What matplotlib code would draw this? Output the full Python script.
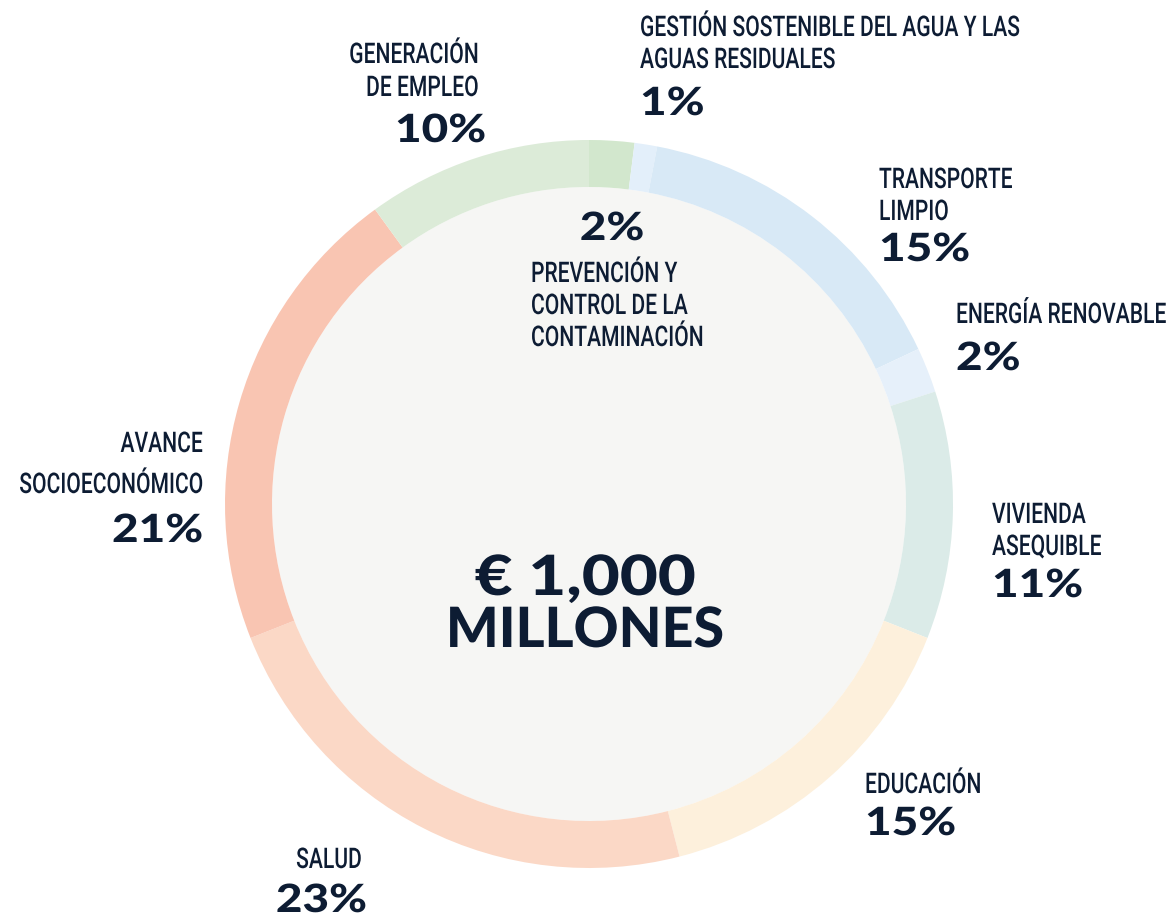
import matplotlib
matplotlib.use("Agg")
import matplotlib.pyplot as plt
from matplotlib.patches import Circle
from matplotlib.patheffects import AbstractPathEffect
from matplotlib.transforms import Affine2D

# Allocation of the bond proceeds, clockwise from 12 o'clock
categories = [
    "PREVENCIÓN Y\nCONTROL DE LA\nCONTAMINACIÓN",
    "GESTIÓN SOSTENIBLE DEL AGUA Y LAS\nAGUAS RESIDUALES",
    "TRANSPORTE\nLIMPIO",
    "ENERGÍA RENOVABLE",
    "VIVIENDA\nASEQUIBLE",
    "EDUCACIÓN",
    "SALUD",
    "AVANCE\nSOCIOECONÓMICO",
    "GENERACIÓN\nDE EMPLEO",
]
shares = [2, 1, 15, 2, 11, 15, 23, 21, 10]
colors = ["#d2e7cd", "#e3effa", "#d8e9f6", "#e6f0fa", "#dbebe8",
          "#fdf0dc", "#fbd8c6", "#f9c5b2", "#dcebd8"]
total_lines = ["€ 1,000", "MILLONES"]

NAVY = "#0d1c33"
LABEL_FONT = ["Roboto", "DejaVu Sans"]
PCT_FONT = ["Lato", "DejaVu Sans"]

W, H = 1173, 921
fig = plt.figure(figsize=(W / 100, H / 100), dpi=100)
ax = fig.add_axes([0, 0, 1, 1])


class HScale(AbstractPathEffect):
    """Squeeze or stretch glyphs horizontally about a fixed data x."""

    def __init__(self, sx, x_data):
        super().__init__()
        self.sx = sx
        self.x_data = x_data

    def draw_path(self, renderer, gc, tpath, affine, rgbFace=None):
        x0 = ax.transData.transform((self.x_data, 0))[0]
        t = affine + Affine2D().translate(-x0, 0).scale(self.sx, 1).translate(x0, 0)
        renderer.draw_path(gc, tpath, t, rgbFace)


scaled_texts = []


def scaled_text(x, y, s, ha, sx, **kw):
    pe = HScale(sx, x)
    t = ax.text(x, y, s, ha=ha, va="baseline", path_effects=[pe], **kw)
    scaled_texts.append((t, x, ha, sx, pe))
    return t


cx, cy = 589, H - 504
r_out, ring = 364, 47

ax.add_patch(Circle((cx, cy), r_out - ring, facecolor="#f6f6f4",
                    edgecolor="none", zorder=0))
ax.pie(shares, colors=colors, startangle=90, counterclock=False,
       radius=r_out, center=(cx, cy), frame=True,
       wedgeprops=dict(width=ring, edgecolor="none", linewidth=0))
ax.set_xlim(0, W)
ax.set_ylim(0, H)
ax.set_aspect("equal")
ax.axis("off")

LABEL_SIZE, LABEL_SX = 20.5, 0.74
PCT_SIZE, PCT_SX = 28, 1.18

# name: (x, first baseline, line step, alignment); pct: (x, baseline, alignment)
layout = [
    dict(name=(531, 282, 32, "left"), pct=(612, 240, "center")),
    dict(name=(640, 36, 32, "left"), pct=(640, 115, "left")),
    dict(name=(879, 188, 32, "left"), pct=(879, 261, "left")),
    dict(name=(956, 323, 32, "left"), pct=(956, 370, "left")),
    dict(name=(992, 523, 32, "left"), pct=(992, 597, "left")),
    dict(name=(865, 793, 32, "left"), pct=(865, 835, "left")),
    dict(name=(362, 868, 32, "right"), pct=(367, 912, "right")),
    dict(name=(203, 452, 41, "right"), pct=(203, 542, "right")),
    dict(name=(479, 63, 33, "right"), pct=(486, 142, "right")),
]

for name, val, lay in zip(categories, shares, layout):
    nx, ny, step, nha = lay["name"]
    for k, line in enumerate(name.split("\n")):
        scaled_text(nx, H - (ny + k * step), line, nha, LABEL_SX,
                    fontsize=LABEL_SIZE, fontweight="medium", color=NAVY,
                    family=LABEL_FONT)
    px, py, pha = lay["pct"]
    scaled_text(px, H - py, f"{val}%", pha, PCT_SX, fontsize=PCT_SIZE,
                fontweight="black", color=NAVY, family=PCT_FONT)

# headline amount in the middle of the ring
for line, base, sx in zip(total_lines, [595, 647], [1.18, 1.0]):
    scaled_text(585, H - base, line, "center", sx, fontsize=40,
                fontweight="black", color=NAVY, family=PCT_FONT)

# Re-anchor each scaled text on its outer side so that the unscaled text box
# stays inside the figure while the drawn glyphs keep their place.
fig.canvas.draw()
renderer = fig.canvas.get_renderer()
px_per_unit = ax.transData.transform((1, 0))[0] - ax.transData.transform((0, 0))[0]
for t, x, ha, sx, pe in scaled_texts:
    w = t.get_window_extent(renderer).width / px_per_unit
    sw = sx * w
    left = {"left": x, "right": x - sw, "center": x - sw / 2}[ha]
    right = left + sw
    if (left + right) / 2 > W / 2:
        t.set_ha("right")
        t.set_x(right)
        pe.x_data = right
    else:
        t.set_ha("left")
        t.set_x(left)
        pe.x_data = left

fig.savefig("out.png", dpi=100)
